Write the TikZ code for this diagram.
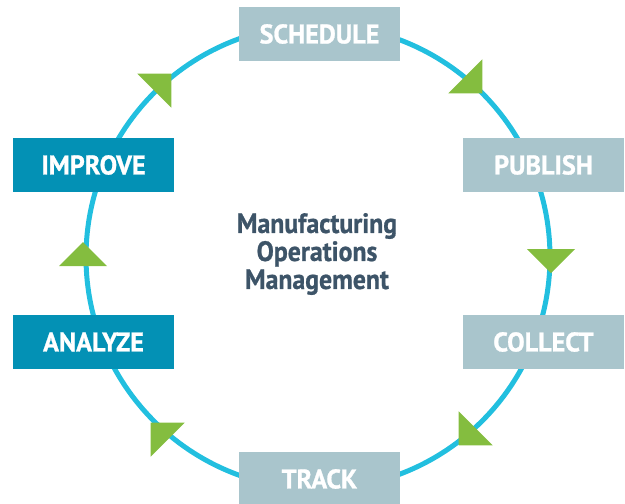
\documentclass[tikz,border=0pt]{standalone}
\usepackage{fontspec}
\setmainfont{PT Sans}
\newfontfamily\condfont[FakeStretch=0.97,FakeBold=1]{PT Sans}
\newfontfamily\titlefont[FakeStretch=0.92,FakeBold=0.8]{PT Sans}
\definecolor{ring}{HTML}{22BFDF}
\definecolor{boxlight}{HTML}{A9C5CC}
\definecolor{boxdark}{HTML}{0391B5}
\definecolor{arrowgreen}{HTML}{84BD3F}
\definecolor{centertext}{HTML}{3D5468}
\newcommand\cyclearrow[2]{\fill[arrowgreen, shift={#1}, rotate=#2] (-8,-24) -- (-8,24) -- (16,0) -- cycle;}
\begin{document}
\begin{tikzpicture}[x=1pt,y=-1pt,
  lightbox/.style={fill=boxlight, minimum width=161pt, minimum height=54pt, inner sep=0pt, text=white,
    font=\condfont\bfseries\fontsize{27}{27}\selectfont},
  darkbox/.style={lightbox, fill=boxdark}]
\useasboundingbox (0,0) rectangle (625,504);
\node[circle, draw=ring, line width=5pt, minimum size=464pt, inner sep=0pt] (ring) at (318,257) {};
\cyclearrow{(471,82)}{-45}
\cyclearrow{(551,257)}{-90}
\cyclearrow{(470,434)}{-135}
\cyclearrow{(162,434)}{135}
\cyclearrow{(83,258)}{90}
\cyclearrow{(160,85)}{45}
\node[lightbox] (schedule) at (319.5,34) {SCHEDULE};
\node[lightbox] (publish) at (543.5,165) {PUBLISH};
\node[darkbox] (improve) at (93.5,165) {IMPROVE};
\node[lightbox] (collect) at (543.5,342) {COLLECT};
\node[darkbox] (analyze) at (93.5,342) {ANALYZE};
\node[lightbox] (track) at (319.5,479) {TRACK};
\node[align=center, text=centertext, font=\titlefont\bfseries\fontsize{28}{28}\selectfont] (title) at (317,254)
  {Manufacturing\\Operations\\Management};
\end{tikzpicture}
\end{document}
